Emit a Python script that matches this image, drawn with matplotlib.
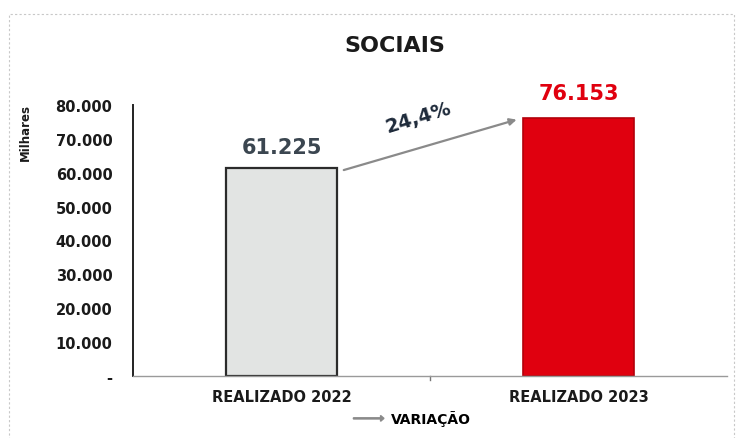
import matplotlib.pyplot as plt
import matplotlib.patches as mpatches
from matplotlib.legend_handler import HandlerPatch

plt.rcParams['font.family'] = ['DejaVu Sans']

# data
categories = ['REALIZADO 2022', 'REALIZADO 2023']
values = [61225, 76153]
value_labels = ['61.225', '76.153']
variation = '24,4%'
yticks = [0, 10000, 20000, 30000, 40000, 50000, 60000, 70000, 80000]
ytick_labels = ['-', '10.000', '20.000', '30.000', '40.000', '50.000', '60.000', '70.000', '80.000']

fig = plt.figure(figsize=(7.36, 4.39), dpi=100)
ax = fig.add_axes([0.181, 0.141, 0.807, 0.618])

x = list(range(len(categories)))
ax.bar(x[0], values[0], width=0.375, color='#e2e4e3', edgecolor='#2b2b2b', linewidth=1.6)
ax.bar(x[1], values[1], width=0.375, color='#e0000f', edgecolor='#b3000a', linewidth=1.2)

ax.set_xlim(-0.5, 1.5)
ax.set_ylim(0, 80000)
ax.set_yticks(yticks)
ax.set_yticklabels(ytick_labels, fontsize=10.5, fontweight='bold', color='#1a1a1a')
ax.set_xticks(x)
ax.set_xticklabels(categories, fontsize=10.5, fontweight='bold', color='#1a1a1a')
ax.tick_params(axis='x', length=0, pad=9)
ax.tick_params(axis='y', length=0, pad=15)
# small tick between the categories
ax.plot([0.5, 0.5], [0, -1200], color='#777777', lw=1, clip_on=False)

for s in ['top', 'right']:
    ax.spines[s].set_visible(False)
ax.spines['left'].set_color('#222222')
ax.spines['left'].set_linewidth(1.4)
ax.spines['bottom'].set_color('#9a9a9a')
ax.spines['bottom'].set_linewidth(1)

ax.text(x[0], values[0] + 3300, value_labels[0], ha='center', va='bottom',
        fontsize=15, fontweight='bold', color='#3b4650')
ax.text(x[1], values[1] + 4400, value_labels[1], ha='center', va='bottom',
        fontsize=15, fontweight='bold', color='#e0000f', clip_on=False)

# variation arrow
ax.annotate('', xy=(x[1] - 0.2, values[1] - 300), xytext=(x[0] + 0.2, values[0] - 700),
            arrowprops=dict(arrowstyle='-|>', color='#8a8a8a', lw=1.6, mutation_scale=10))
ax.text(0.46, 76500, variation, ha='center', va='center', rotation=17,
        fontsize=14, fontweight='bold', color='#1e2a3a')

ax.set_ylabel('Milhares', fontsize=8.5, fontweight='bold', color='#1a1a1a')
ax.yaxis.set_label_coords(-0.17, 0.9)

fig.text(0.537, 0.895, 'SOCIAIS', ha='center', va='center', fontsize=16,
         fontweight='bold', color='#1a1a1a')


def make_arrow(legend, orig_handle, xdescent, ydescent, width, height, fontsize):
    return mpatches.FancyArrow(0, 0.5 * height, width, 0, length_includes_head=True,
                               head_width=0.6 * height, head_length=0.35 * height,
                               width=0.12 * height)


arrow_handle = mpatches.FancyArrow(0, 0, 1, 0, color='#8a8a8a')
fig.legend([arrow_handle], ['VARIAÇÃO'], loc='center', bbox_to_anchor=(0.56, 0.045),
           frameon=False, prop={'size': 10, 'weight': 'bold'},
           handler_map={mpatches.FancyArrow: HandlerPatch(patch_func=make_arrow)},
           handlelength=2.2, handletextpad=0.5)

# dotted chart frame
frame = mpatches.Rectangle((0.012, -0.02), 0.985, 0.985, transform=fig.transFigure,
                           fill=False, edgecolor='#c8c8c8', linestyle=(0, (2, 2)), lw=0.8)
fig.add_artist(frame)

fig.savefig('out.png', dpi=100)
